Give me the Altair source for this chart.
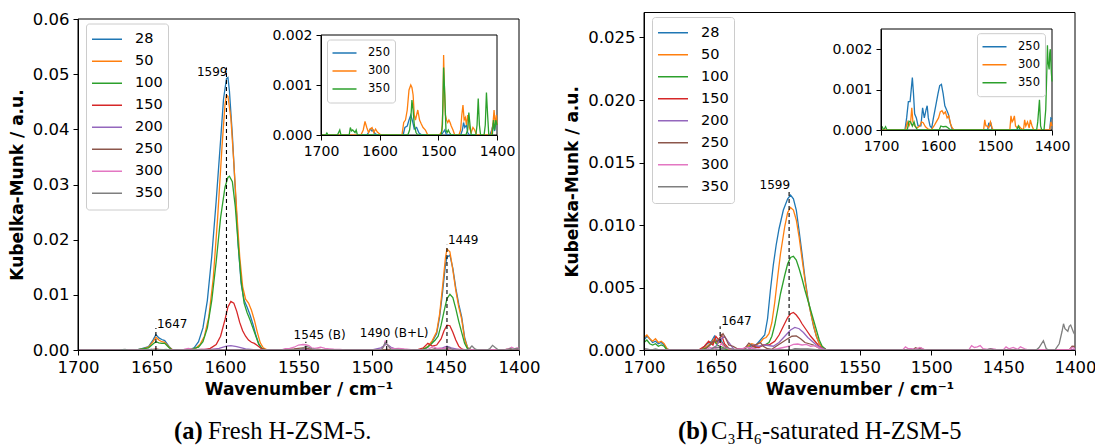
import altair as alt
import pandas as pd

W, H = 1095, 448
TAB10 = ["#1f77b4", "#ff7f0e", "#2ca02c", "#d62728",
         "#9467bd", "#8c564b", "#e377c2", "#7f7f7f"]
TEMPS = ["28", "50", "100", "150", "200", "250", "300", "350"]
INSET_TEMPS = ["250", "300", "350"]

X_TICKS_MAIN = [1700, 1650, 1600, 1550, 1500, 1450, 1400]
X_TICKS_INSET = [1700, 1600, 1500, 1400]
Y_TICKS_A = [0, 0.01, 0.02, 0.03, 0.04, 0.05, 0.06]
Y_TICKS_B = [0, 0.005, 0.010, 0.015, 0.020, 0.025]
Y_TICKS_INSET = [0, 0.001, 0.002]

# ---------------- (a) Fresh H-ZSM-5 ----------------
A28_WN = [1700, 1660, 1656, 1652, 1649, 1647, 1645, 1643, 1641, 1638, 1636, 1625, 1621, 1618, 1615, 1612, 1609, 1606, 1603, 1601, 1599, 1598, 1597, 1595, 1593, 1591, 1589, 1587, 1585, 1583, 1581, 1579, 1577, 1575, 1572, 1466, 1462, 1459, 1456, 1454, 1452, 1450, 1449, 1447, 1445, 1443, 1441, 1439, 1437, 1435, 1432, 1400]
A28_KM = [0, 0, 0.0003, 0.0006, 0.0018, 0.0028, 0.0022, 0.0019, 0.0017, 0.0006, 0.0001, 0, 0.0004, 0.0015, 0.004, 0.009, 0.017, 0.027, 0.038, 0.0455, 0.0492, 0.0494, 0.047, 0.039, 0.029, 0.019, 0.012, 0.009, 0.0078, 0.0064, 0.0047, 0.0027, 0.0011, 0.0003, 0, 0, 0.0005, 0.0015, 0.003, 0.006, 0.0105, 0.0155, 0.0168, 0.0172, 0.0148, 0.0112, 0.0083, 0.006, 0.0023, 0.0004, 0, 0]

A50_WN = [1700, 1660, 1656, 1652, 1649, 1647, 1645, 1643, 1641, 1638, 1636, 1625, 1620, 1617, 1614, 1611, 1608, 1605, 1602, 1600, 1599, 1598, 1596, 1594, 1592, 1590, 1588, 1586, 1584, 1582, 1580, 1578, 1576, 1574, 1571, 1466, 1462, 1459, 1456, 1454, 1452, 1450, 1449, 1447, 1445, 1443, 1441, 1439, 1437, 1435, 1432, 1400]
A50_KM = [0, 0, 0.0002, 0.0005, 0.0015, 0.0023, 0.0018, 0.0015, 0.0014, 0.0005, 0.0001, 0, 0.0003, 0.001, 0.0025, 0.006, 0.013, 0.024, 0.037, 0.0445, 0.0462, 0.046, 0.042, 0.034, 0.025, 0.017, 0.0115, 0.0092, 0.0085, 0.0072, 0.0054, 0.0032, 0.0013, 0.0004, 0, 0, 0.0006, 0.0017, 0.0033, 0.0065, 0.0115, 0.0168, 0.0183, 0.0178, 0.0145, 0.0108, 0.0078, 0.0056, 0.002, 0.0004, 0, 0]

A100_WN = [1700, 1660, 1656, 1652, 1649, 1647, 1645, 1643, 1641, 1638, 1636, 1625, 1618, 1615, 1612, 1609, 1606, 1603, 1600, 1598, 1597, 1595, 1593, 1591, 1589, 1587, 1585, 1583, 1581, 1579, 1577, 1575, 1572, 1468, 1463, 1460, 1457, 1455, 1453, 1451, 1449, 1447, 1445, 1443, 1441, 1439, 1437, 1435, 1432, 1400]
A100_KM = [0, 0, 0.0002, 0.0004, 0.0011, 0.0015, 0.0013, 0.0012, 0.0012, 0.0004, 0, 0, 0.0005, 0.0015, 0.004, 0.009, 0.016, 0.024, 0.0295, 0.0313, 0.0315, 0.0305, 0.026, 0.019, 0.0125, 0.0085, 0.0068, 0.0055, 0.004, 0.0025, 0.001, 0.0003, 0, 0, 0.0004, 0.001, 0.0018, 0.0025, 0.0045, 0.007, 0.0093, 0.0101, 0.0095, 0.0075, 0.0052, 0.0032, 0.0012, 0.0002, 0, 0]

A150_WN = [1700, 1650, 1647, 1644, 1615, 1610, 1606, 1603, 1600, 1598, 1596, 1594, 1592, 1590, 1588, 1586, 1584, 1582, 1580, 1578, 1575, 1572, 1470, 1465, 1462, 1459, 1456, 1453, 1451, 1449, 1447, 1445, 1443, 1441, 1439, 1437, 1400]
A150_KM = [0, 0, 0.0002, 0, 0, 0.0003, 0.001, 0.0025, 0.0055, 0.0078, 0.0088, 0.0085, 0.007, 0.005, 0.0035, 0.0025, 0.0018, 0.0014, 0.0012, 0.0008, 0.0002, 0, 0, 0.0004, 0.0012, 0.0007, 0.0009, 0.002, 0.0035, 0.0045, 0.0044, 0.0032, 0.0018, 0.0007, 0.0002, 0, 0]

A200_WN = [1700, 1612, 1604, 1599, 1596, 1592, 1586, 1578, 1500, 1494, 1490, 1487, 1482, 1458, 1452, 1449, 1446, 1440, 1400]
A200_KM = [0, 0, 0.0003, 0.0007, 0.0008, 0.0006, 0.0002, 0, 0, 0.0004, 0.0011, 0.0005, 0, 0, 0.0004, 0.0007, 0.0004, 0, 0]

A250_WN = [1700, 1622, 1619, 1616, 1613, 1611, 1608, 1604, 1560, 1557, 1553, 1550, 1547, 1544, 1541, 1537, 1533, 1528, 1495, 1492, 1489, 1486, 1462, 1459, 1457, 1455, 1452, 1450, 1447, 1412, 1409, 1407, 1404, 1402, 1400]
A250_KM = [0, 0, 0.00005, 0.00012, 0.00008, 0.0001, 0.00003, 0, 0, 0.00015, 0.00018, 0.0003, 0.0004, 0.00028, 0.00012, 0.00015, 0.00004, 0, 0, 0.00005, 0.0001, 0, 0, 0.0001, 0.00025, 0.00015, 0.0002, 0.00005, 0, 0, 0.0001, 0.0002, 0.00008, 0.00025, 0.0002]

A300_WN = [1700, 1632, 1628, 1625, 1622, 1619, 1616, 1613, 1610, 1607, 1604, 1600, 1596, 1562, 1559, 1556, 1553, 1550, 1547, 1545, 1543, 1541, 1539, 1537, 1535, 1532, 1529, 1526, 1522, 1518, 1498, 1494, 1492, 1491, 1490, 1488, 1486, 1484, 1482, 1480, 1478, 1475, 1472, 1465, 1462, 1460, 1458, 1456, 1454, 1452, 1450, 1447, 1444, 1441, 1438, 1435, 1410, 1407, 1405, 1403, 1401, 1400]
A300_KM = [0, 0, 0.0001, 0.00027, 0.00015, 0.00005, 0.00012, 0.00015, 0.00005, 0.00012, 0.00006, 0.00002, 0, 0, 0.00025, 0.0003, 0.0005, 0.0009, 0.001, 0.00095, 0.0008, 0.0004, 0.0003, 0.0004, 0.0005, 0.0003, 0.00022, 0.00015, 0.0001, 0, 0, 0.00008, 0.0006, 0.0016, 0.0011, 0.0004, 0.0003, 0.00025, 0.0003, 0.00025, 0.00018, 0.0001, 0, 0, 0.0001, 0.0004, 0.0006, 0.0003, 0.00035, 0.0002, 0.0004, 0.00015, 0.00005, 0.00015, 0.0001, 0, 0, 0.0002, 0.0005, 0.0002, 0.0004, 0.0002]

A350_WN = [1700, 1692, 1690, 1688, 1672, 1670, 1668, 1666, 1652, 1650, 1648, 1646, 1642, 1640, 1638, 1552, 1549, 1547, 1545, 1543, 1541, 1538, 1535, 1495, 1493, 1491, 1489, 1487, 1485, 1483, 1481, 1478, 1453, 1450, 1448, 1446, 1444, 1436, 1434, 1432, 1430, 1428, 1422, 1420, 1418, 1416, 1414, 1408, 1406, 1404, 1402, 1400]
A350_KM = [0, 0, 0.00004, 0, 0, 0.00005, 0.0001, 0, 0, 0.00015, 0.00008, 0.0001, 0.00005, 0.0001, 0, 0, 0.0001, 0.0003, 0.0007, 0.0005, 0.0002, 0.00005, 0, 0, 0.0002, 0.00135, 0.0008, 0.0001, 0.00005, 0.0001, 0.00005, 0, 0, 0.0001, 0.00045, 0.0002, 0, 0, 0.0002, 0.00073, 0.0002, 0, 0, 0.0002, 0.00085, 0.0004, 0, 0, 0.0003, 0.0001, 0.0003, 0.0002]

# annotations (a)
ANN_A_WN = [1647, 1599, 1545, 1490, 1449]
ANN_A_TOP = [0.0040, 0.0512, 0.0015, 0.0018, 0.0191]
LAB_A_RIGHT = ["1599"]
LAB_A_RIGHT_X = [1599]
LAB_A_RIGHT_Y = [0.0504]
LAB_A_LEFT = ["1647", "1545 (B)", "1490 (B+L)", "1449"]
LAB_A_LEFT_X = [1647, 1554, 1509, 1449]
LAB_A_LEFT_Y = [0.0047, 0.0027, 0.0031, 0.0199]

# ---------------- (b) C3H6-saturated H-ZSM-5 ----------------
B28_WN = [1700, 1698, 1696, 1694, 1692, 1690, 1688, 1686, 1684, 1682, 1660, 1656, 1653, 1651, 1649, 1647, 1645, 1643, 1640, 1632, 1628, 1625, 1622, 1619, 1616, 1614, 1612, 1610, 1608, 1606, 1603, 1600, 1598, 1596, 1594, 1592, 1590, 1588, 1586, 1584, 1582, 1580, 1578, 1576, 1573, 1400]
B28_KM = [0.0008, 0.0011, 0.0009, 0.0006, 0.0007, 0.0005, 0.0006, 0.0004, 0.0001, 0, 0, 0.0005, 0.0007, 0.0011, 0.0006, 0.0009, 0.0005, 0.0002, 0, 0, 0.0003, 0.0004, 0.0004, 0.0008, 0.0012, 0.0025, 0.0048, 0.0068, 0.0084, 0.0097, 0.0112, 0.0121, 0.0124, 0.0121, 0.0112, 0.0095, 0.0077, 0.0058, 0.0042, 0.003, 0.0019, 0.0011, 0.0005, 0.0002, 0, 0]

B50_WN = [1700, 1698, 1696, 1694, 1692, 1690, 1688, 1686, 1684, 1682, 1660, 1656, 1653, 1651, 1649, 1647, 1645, 1643, 1640, 1632, 1628, 1625, 1622, 1619, 1617, 1615, 1613, 1611, 1609, 1607, 1605, 1602, 1600, 1598, 1596, 1594, 1592, 1590, 1588, 1586, 1584, 1582, 1580, 1578, 1576, 1573, 1400]
B50_KM = [0.001, 0.0012, 0.0009, 0.0007, 0.0009, 0.0006, 0.0007, 0.0005, 0.0001, 0, 0, 0.0003, 0.0006, 0.0009, 0.0005, 0.0007, 0.0004, 0.0001, 0, 0, 0.0003, 0.0005, 0.0004, 0.0006, 0.0009, 0.001, 0.0013, 0.0022, 0.0038, 0.0058, 0.0077, 0.0099, 0.011, 0.0114, 0.0112, 0.0104, 0.009, 0.0073, 0.0056, 0.0041, 0.003, 0.002, 0.0011, 0.0005, 0.0002, 0, 0]

B100_WN = [1700, 1698, 1696, 1694, 1692, 1690, 1688, 1686, 1684, 1682, 1660, 1656, 1653, 1651, 1649, 1647, 1645, 1642, 1632, 1628, 1625, 1622, 1619, 1616, 1613, 1611, 1609, 1607, 1605, 1602, 1600, 1598, 1596, 1594, 1592, 1590, 1588, 1586, 1584, 1582, 1580, 1578, 1576, 1573, 1400]
B100_KM = [0.0006, 0.0008, 0.0005, 0.0004, 0.0005, 0.0003, 0.0004, 0.0003, 0, 0, 0, 0.0002, 0.0005, 0.0007, 0.0004, 0.0003, 0.0002, 0, 0, 0.0002, 0.0003, 0.0002, 0.0003, 0.0004, 0.0006, 0.0011, 0.002, 0.0032, 0.0045, 0.006, 0.0069, 0.0074, 0.0075, 0.0072, 0.0065, 0.0057, 0.0048, 0.004, 0.0032, 0.0024, 0.0016, 0.0008, 0.0003, 0, 0]

B150_WN = [1700, 1662, 1658, 1655, 1652, 1650, 1648, 1646, 1644, 1640, 1628, 1624, 1620, 1617, 1613, 1609, 1606, 1603, 1600, 1598, 1596, 1594, 1592, 1590, 1587, 1584, 1581, 1578, 1575, 1572, 1400]
B150_KM = [0, 0, 0.0003, 0.0007, 0.0004, 0.0011, 0.0008, 0.0012, 0.0005, 0, 0, 0.0003, 0.0002, 0.0004, 0.0004, 0.0007, 0.0012, 0.0019, 0.0026, 0.0029, 0.003, 0.0028, 0.0025, 0.0021, 0.0016, 0.0011, 0.0007, 0.0003, 0.0001, 0, 0]

B200_WN = [1700, 1655, 1650, 1647, 1644, 1641, 1637, 1628, 1624, 1620, 1616, 1610, 1606, 1602, 1598, 1595, 1592, 1589, 1586, 1583, 1580, 1577, 1573, 1400]
B200_KM = [0, 0, 0.0003, 0.0008, 0.0011, 0.0006, 0, 0, 0.0004, 0.0003, 0.0004, 0.0003, 0.0006, 0.0011, 0.0016, 0.0018, 0.0017, 0.0014, 0.001, 0.0007, 0.0004, 0.0002, 0, 0]

B250_WN = [1700, 1658, 1655, 1652, 1649, 1647, 1645, 1643, 1641, 1638, 1635, 1630, 1627, 1624, 1621, 1619, 1617, 1614, 1611, 1608, 1604, 1600, 1597, 1594, 1591, 1588, 1585, 1582, 1579, 1576, 1573, 1513, 1511, 1509, 1507, 1505, 1404, 1402, 1400]
B250_KM = [0, 0, 0.0003, 0.0007, 0.0007, 0.001, 0.0013, 0.0009, 0.0004, 0.0003, 0.0001, 0.0001, 0.00055, 0.0003, 0.0005, 0.0006, 0.0003, 0.0001, 0.00005, 0.0003, 0.0006, 0.0009, 0.0011, 0.00113, 0.0009, 0.0006, 0.0005, 0.0004, 0.0002, 0.00005, 0, 0, 0.00018, 0.0001, 0.00015, 0, 0, 0.0003, 0.00028]

B300_WN = [1700, 1657, 1654, 1651, 1648, 1646, 1644, 1641, 1637, 1632, 1629, 1626, 1622, 1618, 1612, 1607, 1603, 1599, 1596, 1593, 1590, 1587, 1584, 1581, 1578, 1575, 1572, 1520, 1518, 1516, 1514, 1511, 1508, 1505, 1503, 1474, 1472, 1470, 1468, 1466, 1464, 1461, 1458, 1455, 1450, 1448, 1446, 1443, 1440, 1438, 1435, 1432, 1404, 1402, 1400]
B300_KM = [0, 0, 0.0002, 0.0001, 0.0002, 0.00055, 0.0002, 0.0001, 0.00005, 0.0001, 0.0002, 0.00018, 0.00008, 0.00003, 0, 0.0001, 0.0002, 0.0003, 0.00045, 0.00048, 0.0004, 0.00045, 0.0003, 0.00035, 0.00015, 0.00005, 0, 0, 0.00025, 0.0001, 0.0001, 0.00005, 0.0002, 0.00005, 0, 0, 0.00035, 0.0002, 0.00025, 0.00035, 0.0001, 0.00005, 0.0001, 0.00005, 0, 0.00025, 0.0001, 0.0002, 0.00005, 0.00025, 0.0001, 0, 0, 0.0002, 0.0001]

B350_WN = [1700, 1698, 1696, 1694, 1692, 1690, 1688, 1654, 1651, 1648, 1645, 1642, 1640, 1636, 1598, 1595, 1591, 1586, 1582, 1578, 1462, 1459, 1456, 1427, 1425, 1422, 1420, 1418, 1414, 1411, 1409, 1408, 1407, 1405, 1404, 1403, 1401, 1400]
B350_KM = [0.0001, 0.00008, 0.00002, 0.00003, 0.00008, 0.00002, 0, 0, 0.00022, 0.0002, 0.0001, 0.0002, 0.0001, 0, 0, 0.0001, 0.00008, 0.00009, 0.00005, 0, 0, 0.0001, 0, 0, 0.0002, 0.00075, 0.0001, 0, 0, 0.0005, 0.0015, 0.0021, 0.0017, 0.0015, 0.0019, 0.002, 0.0014, 0.0012]

# annotations (b)
ANN_B_WN = [1647, 1599]
ANN_B_TOP = [0.0019, 0.0128]
LAB_B_RIGHT = ["1599"]
LAB_B_RIGHT_X = [1599]
LAB_B_RIGHT_Y = [0.0132]
LAB_B_LEFT = ["1647"]
LAB_B_LEFT_X = [1647]
LAB_B_LEFT_Y = [0.00232]

A_SERIES = {"28": (A28_WN, A28_KM), "50": (A50_WN, A50_KM), "100": (A100_WN, A100_KM),
            "150": (A150_WN, A150_KM), "200": (A200_WN, A200_KM), "250": (A250_WN, A250_KM),
            "300": (A300_WN, A300_KM), "350": (A350_WN, A350_KM)}
B_SERIES = {"28": (B28_WN, B28_KM), "50": (B50_WN, B50_KM), "100": (B100_WN, B100_KM),
            "150": (B150_WN, B150_KM), "200": (B200_WN, B200_KM), "250": (B250_WN, B250_KM),
            "300": (B300_WN, B300_KM), "350": (B350_WN, B350_KM)}

FONT = "DejaVu Sans"


def spectra_df(series, keys):
    rows = []
    for k in keys:
        wn, km = series[k]
        rows += [{"wn": w, "km": v, "T": k} for w, v in zip(wn, km)]
    return pd.DataFrame(rows)


def make_axis(orient, offset, values, fmt, size, title=""):
    kw = dict(orient=orient, offset=offset, values=values, format=fmt,
              labelFontSize=size, labelFont=FONT, labelColor="black",
              tickColor="black", tickSize=5, tickWidth=1, domainColor="black",
              domainWidth=1, grid=False, labelPadding=4, labelOverlap=False,
              labelFlush=False, zindex=1, title=title)
    if title:
        kw.update(titleFontSize=17, titleFont=FONT, titleFontWeight="bold",
                  titleColor="black", titlePadding=6 if orient == "left" else 6)
    return alt.Axis(**kw)


def panel(series, keys, colors, xr, yr, ydom, xticks, yticks, yfmt,
          xoff, yoff, lab_size, legend, xtitle="", ytitle="", ann=None):
    xs = alt.Scale(domain=[1700, 1400], range=xr, nice=False, zero=False)
    ys = alt.Scale(domain=ydom, range=yr, nice=False, zero=False)
    xa = make_axis("bottom", xoff, xticks, "d", lab_size, xtitle)
    ya = make_axis("left", yoff, yticks, yfmt, lab_size, ytitle)
    frame_df = pd.DataFrame({"x1": [1700], "x2": [1400], "y1": [ydom[0]], "y2": [ydom[1]]})
    frame = alt.Chart(frame_df).mark_rect(fillOpacity=0, stroke="black", strokeWidth=1).encode(
        x=alt.X("x1:Q", scale=xs, axis=xa), x2="x2:Q",
        y=alt.Y("y1:Q", scale=ys, axis=ya), y2="y2:Q")
    lines = alt.Chart(spectra_df(series, keys)).mark_line(strokeWidth=1.3).encode(
        x=alt.X("wn:Q", scale=xs, axis=xa),
        y=alt.Y("km:Q", scale=ys, axis=ya),
        color=alt.Color("T:N", scale=alt.Scale(domain=keys, range=colors),
                        sort=keys, legend=legend),
        detail="T:N")
    layers = [frame, lines]
    if ann is not None:
        wn, top, rl, rx, ry, ll, lx, ly = ann
        rdf = pd.DataFrame({"wn": wn, "base": [0] * len(wn), "top": top})
        layers.append(alt.Chart(rdf).mark_rule(strokeDash=[4, 3], color="black", strokeWidth=1.1).encode(
            x=alt.X("wn:Q", scale=xs, axis=xa),
            y=alt.Y("base:Q", scale=ys, axis=ya), y2="top:Q"))
        tr = pd.DataFrame({"tx": rx, "ty": ry, "label": rl})
        layers.append(alt.Chart(tr).mark_text(align="right", baseline="middle", fontSize=12,
                                               font=FONT, color="black", dx=1).encode(
            x=alt.X("tx:Q", scale=xs, axis=xa), y=alt.Y("ty:Q", scale=ys, axis=ya), text="label:N"))
        tl = pd.DataFrame({"tx": lx, "ty": ly, "label": ll})
        layers.append(alt.Chart(tl).mark_text(align="left", baseline="middle", fontSize=12,
                                               font=FONT, color="black", dx=1).encode(
            x=alt.X("tx:Q", scale=xs, axis=xa), y=alt.Y("ty:Q", scale=ys, axis=ya), text="label:N"))
    return alt.layer(*layers)


def legend(x, y, font_size, sym_len, row_h, label_offset, pad):
    return alt.Legend(orient="none", legendX=x, legendY=y, direction="vertical", title=None,
                      symbolType="stroke", symbolSize=sym_len * sym_len, symbolStrokeWidth=1.5,
                      clipHeight=row_h, rowPadding=0, padding=pad,
                      labelFontSize=font_size, labelFont=FONT, labelColor="black",
                      labelOffset=label_offset, fillColor="rgba(255,255,255,0.8)",
                      strokeColor="#cccccc", cornerRadius=3)


ann_a = (ANN_A_WN, ANN_A_TOP, LAB_A_RIGHT, LAB_A_RIGHT_X, LAB_A_RIGHT_Y,
         LAB_A_LEFT, LAB_A_LEFT_X, LAB_A_LEFT_Y)
ann_b = (ANN_B_WN, ANN_B_TOP, LAB_B_RIGHT, LAB_B_RIGHT_X, LAB_B_RIGHT_Y,
         LAB_B_LEFT, LAB_B_LEFT_X, LAB_B_LEFT_Y)

XTITLE = "Wavenumber / cm⁻¹"
YTITLE = "Kubelka-Munk / a.u."

a_main = panel(A_SERIES, TEMPS, TAB10, [78, 519], [350, 19], [0, 0.06],
               X_TICKS_MAIN, Y_TICKS_A, ".2f", 350 - H, -78, 16.5,
               legend(86, 23.5, 14.5, 30, 21.4, 12, 5), XTITLE, YTITLE, ann_a)
a_inset = panel(A_SERIES, INSET_TEMPS, TAB10[:3], [321, 497], [135, 35], [0, 0.002],
                X_TICKS_INSET, Y_TICKS_INSET, ".3f", 135 - H, -321, 14,
                legend(327, 39.5, 11.5, 24, 17.8, 10.5, 4.5))
b_main = panel(B_SERIES, TEMPS, TAB10, [644, 1075], [350, 12.5], [0, 0.027],
               X_TICKS_MAIN, Y_TICKS_B, ".3f", 350 - H, -644, 16.5,
               legend(652, 17, 14.5, 30, 21.4, 12, 5), XTITLE, YTITLE, ann_b)
b_inset = panel(B_SERIES, INSET_TEMPS, TAB10[:3], [881, 1052], [130, 29], [0, 0.0025],
                X_TICKS_INSET, Y_TICKS_INSET, ".3f", 130 - H, -881, 14,
                legend(977, 33.2, 11.5, 24, 18, 10.5, 4.5))

CAPTION_A = ["(a)", "Fresh H-ZSM-5."]
CAPTION_B = ["(b)", "C₃H₆-saturated H-ZSM-5"]
dummy = pd.DataFrame({"d": [0]})


def caption_part(text, x, bold):
    return alt.Chart(dummy).mark_text(text=text, align="left", baseline="alphabetic",
                                      font="Liberation Serif", fontSize=24.5,
                                      fontWeight="bold" if bold else "normal",
                                      color="black").encode(x=alt.value(x), y=alt.value(439))


caps = [caption_part(CAPTION_A[0], 174, True), caption_part(CAPTION_A[1], 208, False),
        caption_part(CAPTION_B[0], 678, True), caption_part(CAPTION_B[1], 711, False)]

chart = alt.layer(a_main, a_inset, b_main, b_inset, *caps).resolve_scale(
    x="independent", y="independent", color="independent"
).properties(width=W, height=H, autosize="none", padding=0).configure(
    background="white", font=FONT
).configure_view(strokeWidth=0)

chart.save("out.html", embed_options={"renderer": "svg", "actions": False})
